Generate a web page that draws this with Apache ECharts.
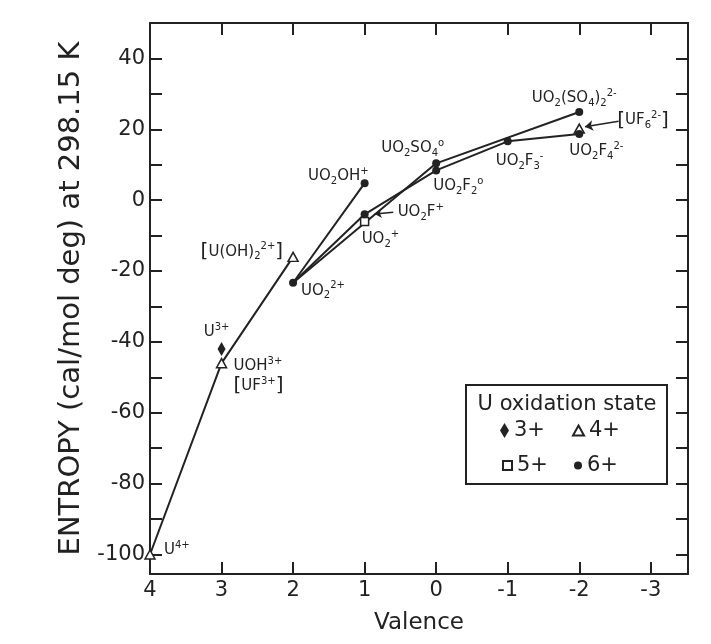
<!DOCTYPE html>
<html><head><meta charset="utf-8">
<script src="https://cdn.jsdelivr.net/npm/echarts@6/dist/echarts.min.js"></script>
<style>html,body{margin:0;padding:0;background:#fff}#c{width:711px;height:644px}</style>
</head><body><div id="c"></div>
<script>
// ---- data: [valence, entropy (cal/mol deg)] ----
const ox3Names = ['U3+'];
const ox3Values = [[3, -42]];
const ox4Names = ['U4+', 'UOH3+', 'U(OH)2 2+', 'UF6 2-'];
const ox4Values = [[4, -100], [3, -46], [2, -16], [-2, 20.2]];
const ox5Names = ['UO2+'];
const ox5Values = [[1, -6]];
const ox6Names = ['UO2 2+', 'UO2OH+', 'UO2F+', 'UO2SO4', 'UO2F2', 'UO2F3-', 'UO2(SO4)2 2-', 'UO2F4 2-'];
const ox6Values = [[2, -23.3], [1, 4.8], [1, -4], [0, 10.4], [0, 8.4], [-1, 16.6], [-2, 24.9], [-2, 18.7]];
const lineU4 = [[4, -100], [3, -46], [2, -16]];
const lineOH = [[2, -23.3], [1, 4.8]];
const lineF = [[2, -23.3], [1, -4], [0, 8.4], [-1, 16.6], [-2, 18.7]];
const lineSO4 = [[2, -23.3], [0, 10.4], [-2, 24.9]];
const arrowUF6 = [[-2.55, 22.3], [-2.08, 20.7]];
const arrowUO2F = [[0.6, -3.4], [0.86, -3.9]];
const legendNames = ['3+', '4+', '5+', '6+'];
const xRange = [-3.52, 4];
const yRange = [-105.5, 50];
const yLabelStep = 20;

// ---- label text (rich) ----
const labelText = {
  'U3+': 'U{p|3+}',
  'U4+': 'U{p|4+}',
  'UOH3+': 'UOH{p|3+}\n{br|[}UF{p|3+}{br|]}',
  'U(OH)2 2+': '{br|[}U(OH){s|2}{p|2+}{br|]}',
  'UF6 2-': '{br|[}UF{s|6}{p|2-}{br|]}',
  'UO2+': 'UO{s|2}{p|+}',
  'UO2 2+': 'UO{s|2}{p|2+}',
  'UO2OH+': 'UO{s|2}OH{p|+}',
  'UO2F+': 'UO{s|2}F{p|+}',
  'UO2SO4': 'UO{s|2}SO{s|4}{p|o}',
  'UO2F2': 'UO{s|2}F{s|2}{p|o}',
  'UO2F3-': 'UO{s|2}F{s|3}{p|-}',
  'UO2(SO4)2 2-': 'UO{s|2}(SO{s|4}){s|2}{p|2-}',
  'UO2F4 2-': 'UO{s|2}F{s|4}{p|2-}'
};
// label placement: [align, dx, dy]
const labelPlace = {
  'U3+': ['center', -5, -17],
  'U4+': ['left', 14, -4],
  'UOH3+': ['left', 12, 13],
  'U(OH)2 2+': ['right', -10, -5],
  'UF6 2-': ['left', 38, -8],
  'UO2+': ['left', -3, 18],
  'UO2 2+': ['left', 8, 8],
  'UO2OH+': ['right', 4, -7],
  'UO2F+': ['left', 33, -2],
  'UO2SO4': ['right', 8, -15],
  'UO2F2': ['left', -3, 16],
  'UO2F3-': ['left', -12, 20],
  'UO2(SO4)2 2-': ['center', -5, -14],
  'UO2F4 2-': ['left', -10, 17]
};

const INK = '#222';
const FONT = 'DejaVu Sans';
const rich = {
  s: {fontSize: 10, verticalAlign: 'bottom', color: INK, fontFamily: FONT},
  p: {fontSize: 10, verticalAlign: 'top', color: INK, fontFamily: FONT},
  br: {fontSize: 20, color: INK, fontFamily: FONT}
};

function pts(names, values) {
  return values.map((v, i) => {
    const n = names[i];
    const pl = labelPlace[n];
    return {
      name: n, value: v,
      label: {
        show: true, position: 'inside', formatter: labelText[n],
        align: pl[0], verticalAlign: 'middle', offset: [pl[1], pl[2]],
        fontSize: 15, fontFamily: FONT, color: INK, lineHeight: 20,
        textBorderWidth: 0, rich: rich
      }
    };
  });
}

function lineSeries(data) {
  return {type: 'line', data: data, symbol: 'none', silent: true, z: 1,
    lineStyle: {color: INK, width: 2}, animation: false};
}

const axisCommon = {
  type: 'value', axisLine: {show: true, onZero: false, lineStyle: {color: INK, width: 2}},
  axisTick: {show: true, inside: true, length: 12, lineStyle: {color: INK, width: 2}},
  splitLine: {show: false}
};

const chart = echarts.init(document.getElementById('c'));
chart.setOption({
  animation: false,
  backgroundColor: '#fff',
  grid: {left: 150, right: 23, top: 23, bottom: 70},
  xAxis: [
    Object.assign({}, axisCommon, {
      min: xRange[0], max: xRange[1], inverse: true, splitNumber: 7, position: 'bottom',
      name: 'Valence', nameLocation: 'middle', nameGap: 38,
      nameTextStyle: {fontSize: 23, fontFamily: FONT, color: INK},
      axisLabel: {fontSize: 21, fontFamily: FONT, color: INK, margin: 6,
        formatter: v => Number.isInteger(v) ? String(v) : ''}
    }),
    Object.assign({}, axisCommon, {
      min: xRange[0], max: xRange[1], inverse: true, splitNumber: 7, position: 'top',
      axisLabel: {show: false}
    })
  ],
  yAxis: [
    Object.assign({}, axisCommon, {
      min: yRange[0], max: yRange[1], splitNumber: 15, position: 'left',
      name: 'ENTROPY (cal/mol deg) at 298.15 K', nameLocation: 'middle', nameGap: 55,
      nameTextStyle: {fontSize: 29, fontFamily: FONT, color: INK},
      axisLabel: {fontSize: 21, fontFamily: FONT, color: INK, margin: 5,
        formatter: v => (Number.isInteger(v) && v % yLabelStep === 0) ? String(v) : ''}
    }),
    Object.assign({}, axisCommon, {
      min: yRange[0], max: yRange[1], splitNumber: 15, position: 'right',
      axisLabel: {show: false}
    })
  ],
  legend: [
    {data: [legendNames[0]], left: 500, top: 420, padding: 0, itemWidth: 9, itemHeight: 15, itemGap: 0,
     textStyle: {fontSize: 21, fontFamily: FONT, color: INK}},
    {data: [legendNames[1]], left: 572, top: 420, padding: 0, itemWidth: 11, itemHeight: 10, itemGap: 0,
     textStyle: {fontSize: 21, fontFamily: FONT, color: INK}},
    {data: [legendNames[2]], left: 502, top: 455, padding: 0, itemWidth: 9, itemHeight: 9, itemGap: 0,
     textStyle: {fontSize: 21, fontFamily: FONT, color: INK}},
    {data: [legendNames[3]], left: 574, top: 455, padding: 0, itemWidth: 8, itemHeight: 8, itemGap: 0,
     textStyle: {fontSize: 21, fontFamily: FONT, color: INK}}
  ],
  graphic: [
    {type: 'rect', shape: {x: 466, y: 385, width: 201, height: 99},
     style: {fill: 'none', stroke: INK, lineWidth: 2}, z: 10},
    {type: 'text', x: 567, y: 405,
     style: {text: 'U oxidation state', fill: INK, font: '21px "DejaVu Sans"', textAlign: 'center', textVerticalAlign: 'middle'}, z: 10}
  ],
  series: [
    lineSeries(lineU4), lineSeries(lineOH), lineSeries(lineF), lineSeries(lineSO4),
    {name: legendNames[0], type: 'scatter', symbol: 'diamond', symbolSize: [8, 14], z: 5,
     itemStyle: {color: INK, opacity: 1}, data: pts(ox3Names, ox3Values)},
    {name: legendNames[1], type: 'scatter', symbol: 'triangle', symbolSize: [10, 9], z: 5,
     itemStyle: {color: '#fff', borderColor: INK, borderWidth: 1.5, opacity: 1}, data: pts(ox4Names, ox4Values),
     markLine: {silent: true, symbol: ['none', 'arrow'], symbolSize: 8, label: {show: false},
       lineStyle: {color: INK, width: 1.5, type: 'solid'},
       data: [[{coord: arrowUF6[0]}, {coord: arrowUF6[1]}]]}},
    {name: legendNames[2], type: 'scatter', symbol: 'rect', symbolSize: 8, z: 5,
     itemStyle: {color: '#fff', borderColor: INK, borderWidth: 1.5, opacity: 1}, data: pts(ox5Names, ox5Values)},
    {name: legendNames[3], type: 'scatter', symbol: 'circle', symbolSize: 8, z: 5,
     itemStyle: {color: INK, opacity: 1}, data: pts(ox6Names, ox6Values),
     markLine: {silent: true, symbol: ['none', 'arrow'], symbolSize: 7, label: {show: false},
       lineStyle: {color: INK, width: 1.5, type: 'solid'},
       data: [[{coord: arrowUO2F[0]}, {coord: arrowUO2F[1]}]]}}
  ]
});
</script></body></html>
